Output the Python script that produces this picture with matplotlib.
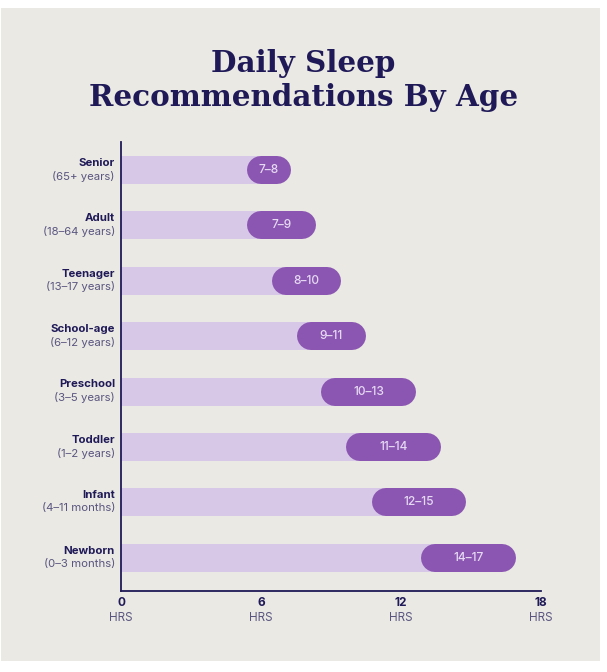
import matplotlib
matplotlib.use("Agg")
import matplotlib.pyplot as plt
from matplotlib.patches import Rectangle

# ---- data ----
categories = ["Senior", "Adult", "Teenager", "School-age", "Preschool", "Toddler", "Infant", "Newborn"]
age_ranges = ["(65+ years)", "(18–64 years)", "(13–17 years)", "(6–12 years)",
              "(3–5 years)", "(1–2 years)", "(4–11 months)", "(0–3 months)"]
range_labels = ["7–8", "7–9", "8–10", "9–11", "10–13", "11–14", "12–15", "14–17"]
# bar geometry as drawn in the picture, in axis hours
pill_start = [5.38, 5.38, 6.46, 7.53, 8.59, 9.66, 10.74, 12.87]
bar_end = [7.30, 8.36, 9.44, 10.51, 12.66, 13.72, 14.78, 16.92]
x_ticks = [0, 6, 12, 18]
x_tick_labels = ["0\nHRS", "6\nHRS", "12\nHRS", "18\nHRS"]

W, H = 607, 672
DPI = 100
BG = "#EAE9E4"
NAVY = "#1F1A57"
SUB = "#5B5680"
LIGHT = "#D8C8E8"
PURPLE = "#8B56B2"
PILL_TXT = "#E6D9F2"

fig = plt.figure(figsize=(W / DPI, H / DPI), dpi=DPI, facecolor="white")
fig.patches.append(Rectangle((1 / W, 1 - 661 / H), 599 / W, 653 / H,
                             transform=fig.transFigure, facecolor=BG,
                             edgecolor="none", zorder=-10))

fig.text(0.5, 1 - 63 / H, "Daily Sleep", ha="center", va="center",
         fontsize=21.2, fontweight="bold", family="DejaVu Serif", color=NAVY)
fig.text(0.5, 1 - 97 / H, "Recommendations By Age", ha="center", va="center",
         fontsize=21.2, fontweight="bold", family="DejaVu Serif", color=NAVY)

ax_l, ax_r, ax_t, ax_b = 121, 541, 142, 591
ax = fig.add_axes([ax_l / W, 1 - ax_b / H, (ax_r - ax_l) / W, (ax_b - ax_t) / H])
ax.set_facecolor("none")
ax.set_xlim(0, 18)
ax.set_ylim(7.6, -0.505)

px_per_x = (ax_r - ax_l) / 18.0
bar_px = 28
bar_h = bar_px / ((ax_b - ax_t) / (7.6 + 0.505))
r_x = (bar_px / 2) / px_per_x
lw_pt = bar_px * 72 / DPI

ys = list(range(len(categories)))
ax.barh(ys, [e - r_x for e in bar_end], left=0, height=bar_h, color=LIGHT, zorder=1)
for y, s, e, lab in zip(ys, pill_start, bar_end, range_labels):
    ax.plot([s + r_x, e - r_x], [y, y], color=PURPLE, lw=lw_pt,
            solid_capstyle="round", zorder=2)
    ax.text((s + e) / 2, y, lab, ha="center", va="center", color=PILL_TXT,
            fontsize=8.6, fontweight="medium", family="Inter", zorder=3)

for y, name, sub in zip(ys, categories, age_ranges):
    ax.text(-6 / px_per_x, y - 0.13, name, ha="right", va="center", color=NAVY,
            fontsize=8.2, fontweight="bold", family="Inter")
    ax.text(-6 / px_per_x, y + 0.11, sub, ha="right", va="center", color=SUB,
            fontsize=8.2, family="Inter")

for s in ["top", "right"]:
    ax.spines[s].set_visible(False)
for s in ["left", "bottom"]:
    ax.spines[s].set_color(NAVY)
    ax.spines[s].set_linewidth(1.3)
ax.set_yticks([])
ax.set_xticks(x_ticks)
ax.set_xticklabels([])
ax.tick_params(axis="x", length=0)
for xv, lab in zip(x_ticks, x_tick_labels):
    num, unit = lab.split("\n")
    ax.text(xv, 7.6 + 12 / 55.4, num, ha="center", va="center", color=NAVY,
            fontsize=8.6, fontweight="bold", family="Inter", clip_on=False)
    ax.text(xv, 7.6 + 27 / 55.4, unit, ha="center", va="center", color=SUB,
            fontsize=8.4, family="Inter", clip_on=False)

fig.savefig("out.png", dpi=DPI, facecolor="white")
